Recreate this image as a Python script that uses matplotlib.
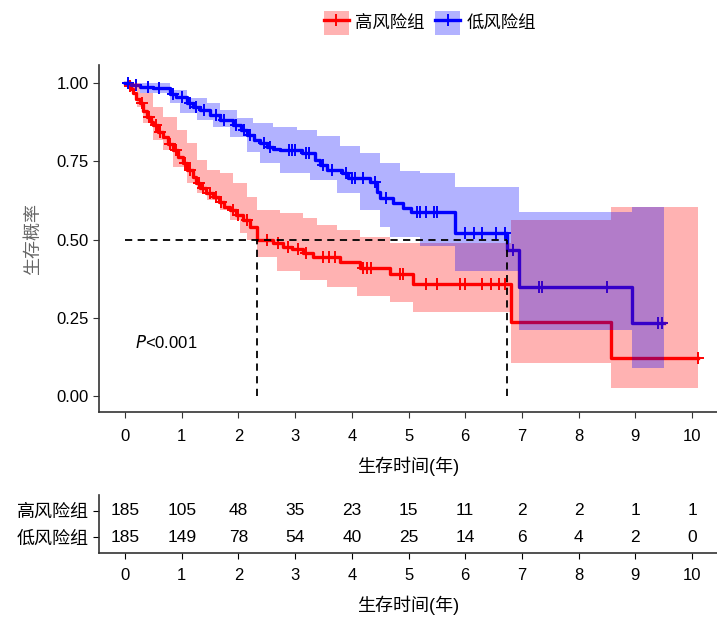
import numpy as np
import matplotlib
matplotlib.use('Agg')
import matplotlib.pyplot as plt
from matplotlib.patches import Patch
from matplotlib.lines import Line2D

plt.rcParams['font.family'] = ['Liberation Sans', 'Noto Sans CJK SC', 'DejaVu Sans']

# ---------------- data ----------------
groups = ['高风险组', '低风险组']
group_colors = ['#FF0000', '#0000FF']

# high-risk KM curve (step times, survival after step)
high_t = [0, 0.05, 0.1, 0.14, 0.2, 0.26, 0.32, 0.39, 0.45, 0.49, 0.58, 0.67, 0.75, 0.85, 0.93,
          1.02, 1.1, 1.2, 1.26, 1.32, 1.42, 1.55, 1.65, 1.75, 1.85, 1.95, 2.08, 2.2, 2.33,
          2.61, 2.79, 2.95, 3.14, 3.32, 3.79, 4.14, 4.67, 5.08, 6.8, 8.57]
high_s = [1.0, 0.99, 0.98, 0.968, 0.95, 0.936, 0.91, 0.891, 0.875, 0.866, 0.845, 0.827, 0.805, 0.786, 0.765,
          0.744, 0.722, 0.70, 0.68, 0.664, 0.65, 0.636, 0.62, 0.605, 0.594, 0.578, 0.562, 0.54, 0.498,
          0.489, 0.476, 0.47, 0.457, 0.444, 0.428, 0.409, 0.39, 0.36, 0.237, 0.121]
high_end = 10.1
high_ci_t = [0, 0.09, 0.21, 0.26, 0.32, 0.49, 0.67, 0.85, 0.92, 1.09, 1.27, 1.45, 1.68, 1.85, 1.9,
             2.03, 2.15, 2.33, 2.68, 2.73, 3.09, 3.14, 3.39, 3.56, 3.74, 4.09, 4.14, 4.67, 5.08, 6.8, 8.57]
high_ci_lo = [1.0, 0.978, 0.923, 0.923, 0.872, 0.818, 0.786, 0.732, 0.732, 0.68, 0.649, 0.626, 0.594, 0.562, 0.562,
              0.52, 0.498, 0.444, 0.40, 0.40, 0.37, 0.37, 0.37, 0.35, 0.35, 0.32, 0.32, 0.30, 0.27, 0.105, 0.025]
high_ci_hi = [1.0, 1.0, 1.0, 0.968, 0.968, 0.923, 0.891, 0.891, 0.85, 0.808, 0.754, 0.722, 0.712, 0.712, 0.68,
              0.68, 0.636, 0.594, 0.594, 0.585, 0.585, 0.569, 0.546, 0.546, 0.53, 0.53, 0.508, 0.49, 0.49, 0.562, 0.605]
high_cens = [0.08, 0.3, 0.42, 0.55, 0.62, 0.8, 0.9, 1.05, 1.15, 1.3, 1.38, 1.5, 1.6, 1.7, 1.9, 2.0, 2.15,
             2.5, 2.7, 2.88, 3.05, 3.2, 3.5, 3.6, 3.7, 4.2, 4.27, 4.34, 4.85, 4.9, 5.3, 5.5, 5.9, 6.0,
             6.3, 6.45, 6.6, 6.7, 10.1]

# low-risk KM curve
low_t = [0, 0.1, 0.26, 0.5, 0.79, 0.9, 1.09, 1.2, 1.32, 1.5, 1.68, 1.9, 2.05, 2.15, 2.28, 2.38, 2.5,
         2.61, 2.73, 3.12, 3.35, 3.44, 3.56, 3.83, 3.93, 4.32, 4.44, 4.5, 4.73, 4.9, 5.05, 5.82,
         6.74, 6.95, 8.94]
low_s = [1.0, 0.995, 0.987, 0.984, 0.965, 0.955, 0.936, 0.925, 0.914, 0.898, 0.882, 0.866, 0.85, 0.834,
         0.82, 0.81, 0.795, 0.79, 0.786, 0.776, 0.754, 0.738, 0.722, 0.712, 0.696, 0.684, 0.652, 0.633,
         0.617, 0.601, 0.59, 0.52, 0.467, 0.348, 0.233]
low_end = 9.5
low_ci_t = [0, 0.26, 0.79, 0.97, 1.09, 1.27, 1.45, 1.55, 1.68, 1.85, 1.98, 2.15, 2.26, 2.38, 2.61, 2.73,
            3.03, 3.26, 3.39, 3.74, 3.79, 4.14, 4.5, 4.67, 4.85, 5.2, 5.82, 6.95, 8.94]
low_ci_lo = [1.0, 0.968, 0.936, 0.904, 0.904, 0.882, 0.882, 0.86, 0.86, 0.828, 0.828, 0.78, 0.78, 0.745,
             0.745, 0.712, 0.712, 0.69, 0.69, 0.65, 0.65, 0.594, 0.54, 0.508, 0.508, 0.48, 0.40, 0.21, 0.09]
low_ci_hi = [1.0, 1.0, 0.978, 0.978, 0.952, 0.952, 0.936, 0.936, 0.914, 0.914, 0.89, 0.89, 0.872, 0.872,
             0.86, 0.86, 0.85, 0.85, 0.83, 0.83, 0.80, 0.776, 0.744, 0.744, 0.72, 0.712, 0.668, 0.588, 0.605]
low_cens = [0.05, 0.2, 0.4, 0.6, 0.85, 1.0, 1.15, 1.25, 1.4, 1.6, 1.75, 1.95, 2.1, 2.2, 2.45, 2.55,
            2.9, 2.95, 3.0, 3.2, 3.25, 3.5, 3.65, 3.9, 4.0, 4.05, 4.2, 4.4, 4.6, 5.15, 5.2, 5.3, 5.45,
            5.5, 6.0, 6.15, 6.3, 6.55, 6.7, 6.85, 7.3, 7.35, 8.5, 9.4, 9.47]

p_text = 'P<0.001'
time_ticks = [0, 1, 2, 3, 4, 5, 6, 7, 8, 9, 10]
surv_ticks = [0.0, 0.25, 0.5, 0.75, 1.0]
high_risk = [185, 105, 48, 35, 23, 15, 11, 2, 2, 1, 1]
low_risk = [185, 149, 78, 54, 40, 25, 14, 6, 4, 2, 0]
xlabel = '生存时间(年)'
ylabel = '生存概率'

# ---------------- plotting ----------------
def step_at(t_arr, s_arr, x):
    idx = np.searchsorted(np.asarray(t_arr), np.asarray(x), side='right') - 1
    return np.asarray(s_arr)[idx]

def median_time(t_arr, s_arr):
    s = np.asarray(s_arr)
    return np.asarray(t_arr)[np.argmax(s <= 0.5)]

fig = plt.figure(figsize=(7.17, 6.17), dpi=100)
ax = fig.add_axes([0.138, 0.332, 0.862, 0.562])

curves = [
    (high_t, high_s, high_end, high_ci_t, high_ci_lo, high_ci_hi, high_cens),
    (low_t, low_s, low_end, low_ci_t, low_ci_lo, low_ci_hi, low_cens),
]
for (t, s, end, ct, lo, hi, cens), col in zip(curves, group_colors):
    ax.step(np.append(t, end), np.append(s, s[-1]), where='post', color=col, lw=2.4, zorder=2)
    ax.plot(cens, step_at(t, s, cens), linestyle='none', marker='+', ms=8, mew=1.4,
            color=col, zorder=2)
for (t, s, end, ct, lo, hi, cens), col in zip(curves, group_colors):
    ax.fill_between(np.append(ct, end), np.append(lo, lo[-1]), np.append(hi, hi[-1]),
                    step='post', color=col, alpha=0.3, lw=0, zorder=3)

m_high = median_time(high_t, high_s)
m_low = median_time(low_t, low_s)
dash = dict(color='black', lw=1.3, linestyle=(0, (4, 3)), zorder=4)
ax.plot([0, m_low], [0.5, 0.5], **dash)
ax.plot([m_high, m_high], [0, 0.5], **dash)
ax.plot([m_low, m_low], [0, 0.5], **dash)

ax.text(0.18, 0.17, r'$\it{P}$' + p_text[1:], fontsize=12, va='center', ha='left')

ax.set_xlim(-0.46, 10.44)
ax.set_ylim(-0.051, 1.057)
ax.set_xticks(time_ticks)
ax.set_yticks(surv_ticks)
ax.set_yticklabels([f'{v:.2f}' for v in surv_ticks])
for sp in ['top', 'right']:
    ax.spines[sp].set_visible(False)
for sp in ['left', 'bottom']:
    ax.spines[sp].set_color('#333333')
    ax.spines[sp].set_linewidth(1.2)
ax.tick_params(labelsize=12, colors='#333333', labelcolor='black', length=4)
ax.tick_params(axis='x', pad=8)
ax.set_xlabel(xlabel, fontsize=13, labelpad=9)
ax.set_ylabel(ylabel, fontsize=13, color='#666666', labelpad=10)

handles = []
for col in group_colors:
    handles.append((Patch(facecolor=col, alpha=0.3, edgecolor='none'),
                    Line2D([], [], color=col, lw=2.4, marker='+', ms=8, mew=1.4)))
fig.legend(handles, groups, loc='center', bbox_to_anchor=(0.60, 0.963), ncol=2, frameon=False,
           fontsize=12.5, handlelength=1.4, handleheight=1.7, columnspacing=0.6, handletextpad=0.4)

# risk table
rax = fig.add_axes([0.138, 0.104, 0.862, 0.094])
for i, x in enumerate(time_ticks):
    rax.text(x, 1, str(high_risk[i]), ha='center', va='center', fontsize=12.5)
    rax.text(x, 0, str(low_risk[i]), ha='center', va='center', fontsize=12.5)
rax.set_xlim(-0.46, 10.44)
rax.set_ylim(-0.6, 1.6)
rax.set_xticks(time_ticks)
rax.set_yticks([1, 0])
rax.set_yticklabels(groups, fontsize=13)
for sp in ['top', 'right']:
    rax.spines[sp].set_visible(False)
for sp in ['left', 'bottom']:
    rax.spines[sp].set_color('#333333')
    rax.spines[sp].set_linewidth(1.2)
rax.tick_params(axis='x', labelsize=12, length=4, pad=7)
rax.tick_params(axis='y', length=4)
rax.set_xlabel(xlabel, fontsize=13, labelpad=9)

fig.savefig('out.png', dpi=100)
